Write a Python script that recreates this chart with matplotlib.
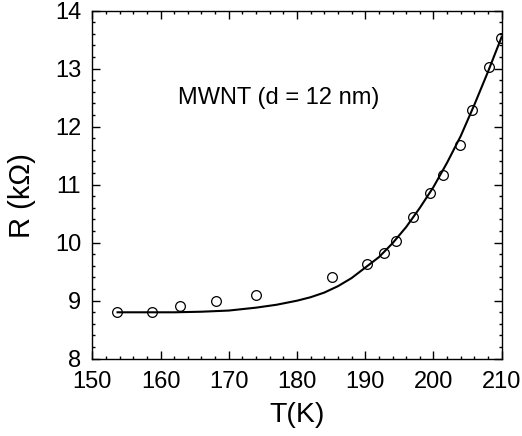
import matplotlib
matplotlib.use("Agg")
import matplotlib.pyplot as plt
from matplotlib.ticker import MultipleLocator

plt.rcParams['font.family'] = ['Liberation Sans', 'DejaVu Sans']

# measured points
T_data = [153.6, 158.7, 162.9, 168.1, 174.0, 185.2, 190.2, 192.8, 194.5,
          197.0, 199.5, 201.4, 203.9, 205.6, 208.2, 209.9]
R_data = [8.80, 8.80, 8.90, 9.00, 9.10, 9.41, 9.63, 9.83, 10.03,
          10.45, 10.86, 11.16, 11.68, 12.28, 13.03, 13.53]

# fitted curve
T_fit = [153.7, 158, 162, 166, 170, 174, 177, 180, 182, 184, 186, 188,
         190, 192, 194, 196, 198, 200, 202, 204, 206, 208, 210]
R_fit = [8.80, 8.80, 8.80, 8.81, 8.83, 8.88, 8.93, 9.00, 9.06, 9.14, 9.25, 9.39,
         9.57, 9.75, 9.99, 10.27, 10.60, 10.96, 11.38, 11.84, 12.38, 12.95, 13.55]

fig = plt.figure(figsize=(5.22, 4.36), dpi=100)
ax = fig.add_axes([0.1768, 0.1773, 0.7843, 0.7982])

ax.plot(T_fit, R_fit, color='black', lw=1.5)
ax.plot(T_data, R_data, 'o', mfc='none', mec='black', ms=7, mew=0.9)

ax.set_xlim(150, 210)
ax.set_ylim(8, 14)
ax.xaxis.set_major_locator(MultipleLocator(10))
ax.xaxis.set_minor_locator(MultipleLocator(2))
ax.yaxis.set_major_locator(MultipleLocator(1))
ax.yaxis.set_minor_locator(MultipleLocator(0.2))
ax.tick_params(which='both', direction='in', top=True, right=True, labelsize=17, width=1)
ax.tick_params(which='major', length=5.5)
ax.tick_params(which='minor', length=2.5)
ax.tick_params(axis='x', pad=9)
ax.tick_params(axis='y', pad=8)
for s in ax.spines.values():
    s.set_linewidth(1)

ax.set_xlabel('T(K)', fontsize=20.5)
ax.set_ylabel('R (kΩ)', fontsize=21)
ax.xaxis.set_label_coords(0.5, -0.125)
ax.yaxis.set_label_coords(-0.137, 0.47)
ax.text(162.6, 12.5, 'MWNT (d = 12 nm)', fontsize=17, ha='left', va='center')

fig.savefig('out.png', dpi=100)
